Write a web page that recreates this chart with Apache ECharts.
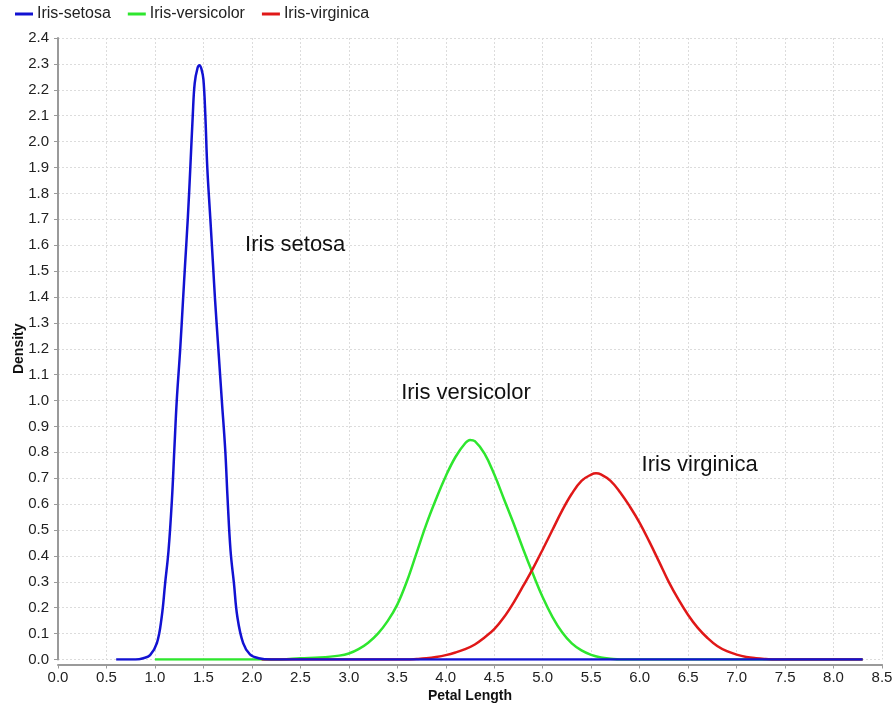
<!DOCTYPE html>
<html>
<head>
<meta charset="utf-8">
<script src="https://cdn.jsdelivr.net/npm/echarts@6/dist/echarts.min.js"></script>
<style>
  html, body { margin: 0; padding: 0; background: #ffffff; }
  #chart { width: 892px; height: 706px; }
</style>
</head>
<body>
<div id="chart"></div>
<script>
// Kernel density estimates of petal length for the three iris species
const seriesNames = ['Iris-setosa', 'Iris-versicolor', 'Iris-virginica'];

// [petal length (cm), density]
const setosa = [
  [0.60, 0], [0.80, 0], [0.88, 0.005], [0.95, 0.017], [1.02, 0.063], [1.07, 0.165],
  [1.105, 0.294], [1.14, 0.42], [1.175, 0.616], [1.20, 0.81], [1.225, 1.0], [1.26, 1.195],
  [1.29, 1.39], [1.31, 1.52], [1.34, 1.71], [1.365, 1.90], [1.39, 2.10], [1.41, 2.225],
  [1.44, 2.285], [1.46, 2.295], [1.48, 2.28], [1.50, 2.24], [1.52, 2.10], [1.54, 1.90],
  [1.57, 1.71], [1.60, 1.52], [1.62, 1.39], [1.655, 1.195], [1.69, 1.0], [1.725, 0.81],
  [1.75, 0.616], [1.78, 0.42], [1.815, 0.294], [1.85, 0.165], [1.91, 0.063], [1.98, 0.02],
  [2.07, 0.005], [2.20, 0], [8.30, 0]
];

const versicolor = [
  [1.00, 0], [2.30, 0], [2.50, 0.005], [2.70, 0.008], [2.90, 0.015], [3.00, 0.023],
  [3.10, 0.040], [3.20, 0.065], [3.30, 0.100], [3.40, 0.148], [3.50, 0.212], [3.60, 0.303],
  [3.70, 0.413], [3.80, 0.523], [3.90, 0.620], [4.00, 0.708], [4.10, 0.782], [4.20, 0.835],
  [4.25, 0.848], [4.30, 0.843], [4.40, 0.795], [4.50, 0.715], [4.60, 0.620], [4.70, 0.525],
  [4.80, 0.425], [4.90, 0.330], [5.00, 0.240], [5.10, 0.165], [5.20, 0.105], [5.30, 0.062],
  [5.40, 0.035], [5.50, 0.018], [5.60, 0.008], [5.70, 0.003], [5.80, 0], [8.30, 0]
];

const virginica = [
  [2.10, 0], [3.60, 0], [3.70, 0.002], [3.80, 0.005], [3.90, 0.010], [4.00, 0.017],
  [4.10, 0.027], [4.20, 0.040], [4.30, 0.058], [4.40, 0.085], [4.50, 0.117], [4.60, 0.163],
  [4.70, 0.220], [4.80, 0.285], [4.90, 0.352], [5.00, 0.425], [5.10, 0.500], [5.20, 0.575],
  [5.30, 0.640], [5.40, 0.690], [5.50, 0.714], [5.55, 0.719], [5.60, 0.715], [5.70, 0.690],
  [5.80, 0.645], [5.90, 0.590], [6.00, 0.528], [6.10, 0.455], [6.20, 0.378], [6.30, 0.300],
  [6.40, 0.232], [6.50, 0.172], [6.60, 0.122], [6.70, 0.083], [6.80, 0.052], [6.90, 0.032],
  [7.00, 0.019], [7.10, 0.010], [7.20, 0.005], [7.30, 0.002], [7.40, 0], [8.30, 0]
];

// Species captions placed in data coordinates: [x, y, text]
const captions = [
  [1.93, 1.60, 'Iris setosa'],
  [3.54, 1.03, 'Iris versicolor'],
  [6.02, 0.753, 'Iris virginica']
];

const colors = ['#1212d2', '#2ee62e', '#e01818'];
const dataSets = [setosa, versicolor, virginica];

const chart = echarts.init(document.getElementById('chart'), null, { renderer: 'canvas' });

const series = dataSets.map((d, i) => ({
  name: seriesNames[i],
  type: 'line',
  data: d,
  showSymbol: false,
  smooth: 0.4,
  z: i === 0 ? 4 : 2,
  lineStyle: { color: colors[i], width: 2.5 },
  itemStyle: { color: colors[i] },
  emphasis: { disabled: true },
  markPoint: {
    symbol: 'circle',
    symbolSize: 0,
    silent: true,
    label: {
      show: true,
      position: 'right',
      distance: 0,
      color: '#111',
      fontSize: 22,
      fontFamily: 'Liberation Sans, Arial, sans-serif',
      formatter: () => captions[i][2]
    },
    data: [{ coord: [captions[i][0], captions[i][1]] }]
  }
}));

const option = {
  backgroundColor: '#ffffff',
  animation: false,
  color: colors,
  textStyle: { fontFamily: 'Liberation Sans, Arial, sans-serif' },
  legend: {
    data: seriesNames,
    left: 10,
    top: 1,
    icon: 'rect',
    itemWidth: 18,
    itemHeight: 3,
    itemGap: 17,
    textStyle: { fontSize: 16, color: '#222', padding: [0, 0, 0, -1] }
  },
  grid: {
    left: 58, right: 10, top: 38, bottom: 46.5,
    containLabel: false,
    outerBoundsMode: 'none'
  },
  xAxis: {
    type: 'value',
    min: 0,
    max: 8.5,
    interval: 0.5,
    offset: 5,
    name: 'Petal Length',
    nameLocation: 'middle',
    nameGap: 25,
    nameMoveOverlap: false,
    nameTextStyle: { fontSize: 14, fontWeight: 'bold', color: '#111' },
    axisLine: { show: true, onZero: false, lineStyle: { color: '#9a9a9a', width: 2 } },
    axisTick: { show: true, length: 4, lineStyle: { color: '#9a9a9a' } },
    axisLabel: { fontSize: 15, color: '#222', margin: 6, formatter: v => v.toFixed(1) },
    splitLine: { show: true, lineStyle: { color: '#dcdcdc', type: [2, 2], width: 1 } }
  },
  yAxis: {
    type: 'value',
    min: 0,
    max: 2.4,
    interval: 0.1,
    offset: 1,
    name: 'Density',
    nameLocation: 'middle',
    nameGap: 31,
    nameRotate: 90,
    nameMoveOverlap: false,
    nameTextStyle: { fontSize: 14, fontWeight: 'bold', color: '#111' },
    axisLine: { show: true, lineStyle: { color: '#9a9a9a', width: 2 } },
    axisTick: { show: true, length: 4, lineStyle: { color: '#9a9a9a' } },
    axisLabel: { fontSize: 15, color: '#222', margin: 8, formatter: v => v.toFixed(1) },
    splitLine: { show: true, lineStyle: { color: '#dcdcdc', type: [2, 2], width: 1 } }
  },
  series: series
};

chart.setOption(option);
</script>
</body>
</html>
